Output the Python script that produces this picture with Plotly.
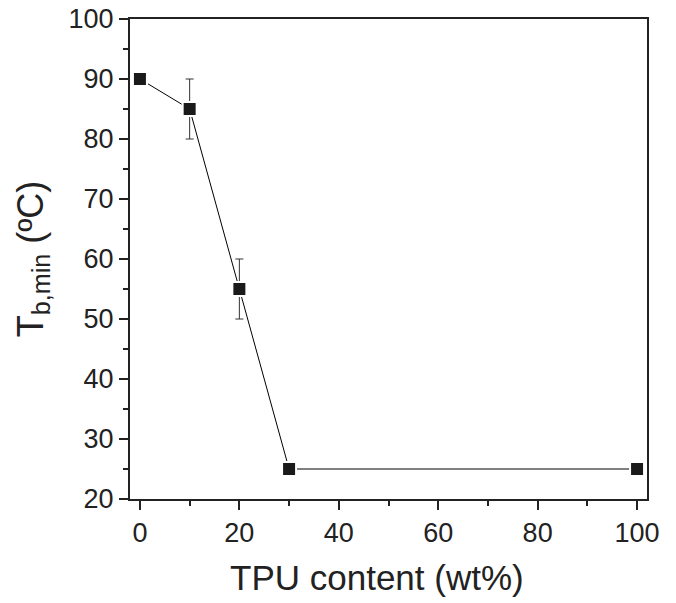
import plotly.graph_objects as go

tpu_content = [0, 10, 20, 30, 100]
tb_min = [90, 85, 55, 25, 25]
tb_err = [0, 5, 5, 0, 0]
x_ticks = [0, 20, 40, 60, 80, 100]
y_ticks = [20, 30, 40, 50, 60, 70, 80, 90, 100]

FONT = "Liberation Sans, Arial"
INK = "#222222"

fig = go.Figure()
fig.add_trace(go.Scatter(
    x=tpu_content, y=tb_min,
    mode="lines+markers",
    line=dict(color="black", width=1),
    marker=dict(symbol="square", size=14, color="#1a1a1a",
                line=dict(color="white", width=2)),
    error_y=dict(type="data", array=tb_err, visible=True,
                 color="#333333", thickness=1, width=4),
    showlegend=False,
))

axis_common = dict(
    showline=True, linecolor=INK, linewidth=2, mirror=True,
    ticks="outside", ticklen=9, tickwidth=1.5, tickcolor=INK,
    showgrid=False, zeroline=False, automargin=False,
    tickfont=dict(family=FONT, size=27, color=INK),
)

fig.update_xaxes(
    range=[-2, 102], tickvals=x_ticks,
    minor=dict(ticks="outside", ticklen=5, tickwidth=1.5, tickcolor=INK, dtick=10, tick0=0),
    **axis_common,
)
fig.update_yaxes(
    range=[20, 100], tickvals=y_ticks,
    minor=dict(ticks="outside", ticklen=5, tickwidth=1.5, tickcolor=INK, dtick=5, tick0=0),
    title=dict(text="T<sub>b,min</sub> (ºC)", font=dict(family=FONT, size=36, color=INK), standoff=14),
    **axis_common,
)

fig.add_annotation(
    text="TPU content (wt%)", xref="paper", yref="paper",
    x=0.478, y=-0.118, xanchor="center", yanchor="top", showarrow=False,
    font=dict(family=FONT, size=35, color=INK),
)

fig.update_layout(
    width=676, height=603,
    margin=dict(l=130, r=29, t=19, b=104),
    plot_bgcolor="white", paper_bgcolor="white",
)

fig.write_html("out.html", config={"displayModeBar": False},
               post_script="document.body.style.margin='0';")
